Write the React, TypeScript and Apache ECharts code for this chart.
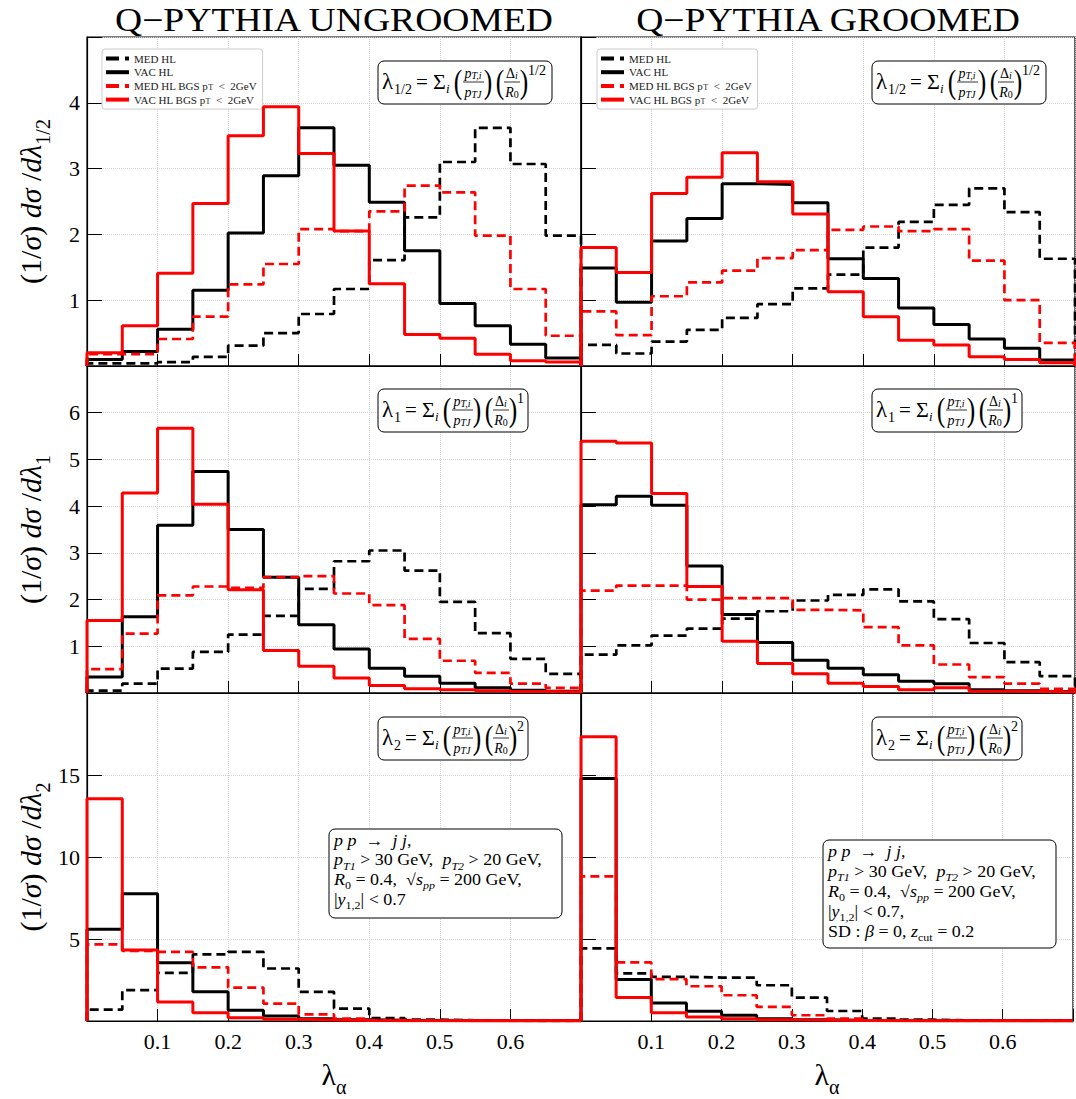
import React, { useEffect, useRef } from "react";
import * as echarts from "echarts";

const FONT = "Liberation Serif";

// bin edges of all histograms (lambda_alpha)
const binEdges = [0, 0.05, 0.1, 0.15, 0.2, 0.25, 0.3, 0.35, 0.4, 0.45, 0.5, 0.55, 0.6, 0.65, 0.7];
const xTicks = [0.1, 0.2, 0.3, 0.4, 0.5, 0.6];

const seriesNames = ["MED HL", "VAC HL", "MED HL BGS pT < 2GeV", "VAC HL BGS pT < 2GeV"];
const panelTitles = ["Q−PYTHIA UNGROOMED", "Q−PYTHIA GROOMED"];

// ---- lambda 1/2, ungroomed
const ugHalfMed = [0.04, 0.04, 0.06, 0.14, 0.31, 0.5, 0.79, 1.17, 1.61, 2.26, 3.1, 3.62, 3.07, 1.98];
const ugHalfVac = [0.1, 0.22, 0.56, 1.15, 2.02, 2.89, 3.62, 3.05, 2.49, 1.75, 0.95, 0.61, 0.33, 0.12];
const ugHalfMedBgs = [0.18, 0.18, 0.41, 0.75, 1.24, 1.55, 2.08, 2.05, 2.35, 2.74, 2.64, 1.98, 1.17, 0.46];
const ugHalfVacBgs = [0.2, 0.61, 1.41, 2.47, 3.5, 3.94, 3.23, 2.05, 1.25, 0.48, 0.42, 0.18, 0.08, 0.06];
// ---- lambda 1/2, groomed
const grHalfMed = [0.32, 0.19, 0.37, 0.55, 0.73, 0.94, 1.18, 1.39, 1.8, 2.19, 2.45, 2.7, 2.34, 1.63];
const grHalfVac = [1.49, 0.97, 1.9, 2.24, 2.77, 2.76, 2.48, 1.63, 1.33, 0.88, 0.63, 0.41, 0.27, 0.09];
const grHalfMedBgs = [0.83, 0.47, 1.06, 1.27, 1.45, 1.64, 1.76, 2.07, 2.12, 2.05, 2.08, 1.6, 1.0, 0.35];
const grHalfVacBgs = [1.8, 1.42, 2.62, 2.87, 3.24, 2.8, 2.31, 1.13, 0.75, 0.39, 0.32, 0.14, 0.1, 0.05];
// ---- lambda 1, ungroomed
const ugOneMed = [0.05, 0.2, 0.52, 0.88, 1.25, 1.65, 2.23, 2.82, 3.05, 2.62, 1.95, 1.28, 0.73, 0.41];
const ugOneVac = [0.34, 1.63, 3.59, 4.74, 3.5, 2.48, 1.46, 0.94, 0.53, 0.36, 0.21, 0.11, 0.06, 0.04];
const ugOneMedBgs = [0.51, 1.27, 2.09, 2.28, 2.25, 2.48, 2.5, 2.13, 1.88, 1.16, 0.69, 0.43, 0.2, 0.11];
const ugOneVacBgs = [1.55, 4.28, 5.67, 4.04, 2.21, 0.91, 0.57, 0.32, 0.16, 0.09, 0.07, 0.05, 0.03, 0.02];
// ---- lambda 1, groomed
const grOneMed = [0.82, 1.02, 1.23, 1.38, 1.59, 1.75, 1.98, 2.1, 2.22, 1.96, 1.58, 1.07, 0.66, 0.36];
const grOneVac = [4.03, 4.21, 4.02, 2.72, 1.68, 1.08, 0.7, 0.53, 0.39, 0.25, 0.2, 0.07, 0.05, 0.03];
const grOneMedBgs = [2.19, 2.3, 2.3, 2.0, 2.03, 2.03, 1.78, 1.77, 1.41, 1.02, 0.61, 0.34, 0.2, 0.09];
const grOneVacBgs = [5.39, 5.35, 4.27, 2.28, 1.11, 0.63, 0.41, 0.21, 0.14, 0.07, 0.11, 0.04, 0.03, 0.02];
// ---- lambda 2, ungroomed
const ugTwoMed = [0.69, 1.88, 2.94, 4.06, 4.22, 3.2, 1.78, 0.76, 0.18, 0.08, 0.04, 0.02, 0.01, 0.01];
const ugTwoVac = [5.59, 7.76, 3.55, 1.78, 0.65, 0.31, 0.14, 0.08, 0.05, 0.03, 0.02, 0.01, 0.01, 0.01];
const ugTwoMedBgs = [4.67, 4.27, 4.22, 3.27, 2.04, 1.06, 0.41, 0.14, 0.06, 0.03, 0.02, 0.01, 0.01, 0.01];
const ugTwoVacBgs = [13.55, 4.33, 1.16, 0.51, 0.2, 0.1, 0.06, 0.03, 0.02, 0.02, 0.01, 0.01, 0.01, 0.01];
// ---- lambda 2, groomed
const grTwoMed = [4.43, 2.9, 2.69, 2.65, 2.65, 2.18, 1.43, 0.61, 0.14, 0.08, 0.04, 0.02, 0.01, 0.01];
const grTwoVac = [14.78, 2.53, 1.1, 0.59, 0.35, 0.14, 0.08, 0.04, 0.03, 0.02, 0.01, 0.01, 0.01, 0.01];
const grTwoMedBgs = [8.82, 3.57, 2.55, 2.12, 1.57, 0.86, 0.35, 0.14, 0.04, 0.02, 0.01, 0.01, 0.01, 0.01];
const grTwoVacBgs = [17.33, 1.43, 0.51, 0.24, 0.14, 0.08, 0.04, 0.03, 0.02, 0.01, 0.01, 0.01, 0.01, 0.01];

const panelData = [
  [ugHalfMed, ugHalfVac, ugHalfMedBgs, ugHalfVacBgs],
  [grHalfMed, grHalfVac, grHalfMedBgs, grHalfVacBgs],
  [ugOneMed, ugOneVac, ugOneMedBgs, ugOneVacBgs],
  [grOneMed, grOneVac, grOneMedBgs, grOneVacBgs],
  [ugTwoMed, ugTwoVac, ugTwoMedBgs, ugTwoVacBgs],
  [grTwoMed, grTwoVac, grTwoMedBgs, grTwoVacBgs],
];

const rowYMax = [5, 7, 20];
const rowYInterval = [1, 1, 5];
const rowSub = ["1/2", "1", "2"];

function stepPoints(vals: number[]) {
  const pts: number[][] = [[binEdges[0], 0]];
  vals.forEach((v, i) => {
    pts.push([binEdges[i], v]);
    pts.push([binEdges[i + 1], v]);
  });
  pts.push([binEdges[binEdges.length - 1], 0]);
  return pts;
}

const richBase = (F: number, d: number) => ({
  n: { fontSize: F, fontFamily: FONT, color: "#000", padding: [0, 0, d, 0] },
  m: { fontSize: F, fontFamily: FONT, fontStyle: "italic", color: "#000", padding: [0, 0, d, 0] },
  s: { fontSize: Math.round(F * 0.68), fontFamily: FONT, color: "#000", verticalAlign: "bottom" },
  si: { fontSize: Math.round(F * 0.68), fontFamily: FONT, fontStyle: "italic", color: "#000", verticalAlign: "bottom" },
});

function txt(x: number, y: number, text: string, F: number, align = "left", italic = false, rich?: any, extra: any = {}) {
  return {
    type: "text",
    x,
    y,
    z: 110,
    silent: true,
    ...extra,
    style: {
      text,
      fontSize: F,
      fontFamily: FONT,
      fontStyle: italic ? "italic" : "normal",
      fill: "#000",
      align,
      verticalAlign: "middle",
      rich,
    },
  };
}

function hline(x1: number, x2: number, y: number, w = 0.8) {
  return { type: "line", z: 110, silent: true, shape: { x1, y1: y, x2, y2: y }, style: { stroke: "#000", lineWidth: w } };
}

function box(x: number, y: number, w: number, h: number) {
  return {
    type: "rect",
    z: 105,
    silent: true,
    shape: { x, y, width: w, height: h, r: 6 },
    style: { fill: "#fff", stroke: "#000", lineWidth: 1 },
  };
}

function paren(x: number, y: number, ch: string) {
  return txt(x, y, ch, 34, "center", false, undefined, { scaleX: 0.75 });
}

function formulaEls(bx: number, by: number, bw: number, sub: string, subW: number) {
  const cy = by + 21;
  const els: any[] = [box(bx, by, bw, 43)];
  const fr = richBase(14, 0);
  els.push(txt(bx + 4, cy - 1, "λ", 23));
  els.push(txt(bx + 16, cy + 7, sub, 14));
  const L = bx + 16 + subW;
  els.push(txt(L + 4, cy, "=", 21));
  els.push(txt(L + 21, cy - 1, "Σ", 22));
  els.push(txt(L + 34, cy + 6, "i", 13, "left", true));
  els.push(paren(L + 46, cy, "("));
  els.push(txt(L + 61, cy - 9, "{m|p}{si|T,i}", 14, "center", false, fr));
  els.push(hline(L + 51, L + 72, cy));
  els.push(txt(L + 61, cy + 10, "{m|p}{si|TJ}", 14, "center", false, fr));
  els.push(paren(L + 76, cy, ")"));
  els.push(paren(L + 88, cy, "("));
  els.push(txt(L + 100, cy - 9, "{n|Δ}{si|i}", 14, "center", false, fr));
  els.push(hline(L + 92, L + 108, cy));
  els.push(txt(L + 100, cy + 10, "{m|R}{s|0}", 14, "center", false, fr));
  els.push(paren(L + 112, cy, ")"));
  els.push(txt(L + 116, cy - 12, sub, 14));
  return els;
}

function infoEls(bx: number, by: number, bw: number, bh: number, lines: string[], ys: number[]) {
  const els: any[] = [box(bx, by, bw, bh)];
  const r = richBase(16.5, 3);
  lines.forEach((l, i) => els.push(txt(bx + 5, ys[i], l, 16.5, "left", false, r, { scaleX: 1.09 })));
  return els;
}

const infoLinesUg = [
  "{m|p p}{n|  →  }{m|j j}{n|,}",
  "{m|p}{si|T1}{n| > 30 GeV,  }{m|p}{si|T2}{n| > 20 GeV,}",
  "{m|R}{s|0}{n| = 0.4,  √}{m|s}{si|pp}{n| = 200 GeV,}",
  "{n||}{m|y}{s|1,2}{n|| < 0.7}",
];
const infoLinesGr = [
  "{m|p p}{n|  →  }{m|j j}{n|,}",
  "{m|p}{si|T1}{n| > 30 GeV,  }{m|p}{si|T2}{n| > 20 GeV,}",
  "{m|R}{s|0}{n| = 0.4,  √}{m|s}{si|pp}{n| = 200 GeV,}",
  "{n||}{m|y}{s|1,2}{n|| < 0.7,}",
  "{n|SD : }{m|β}{n| = 0, }{m|z}{s|cut}{n| = 0.2}",
];

const dashIcon = "path://M0,0H13V4H0Z M19,0H23V4H19Z";
const solidIcon = "path://M0,0H23V4H0Z";

export default function App() {
  const ref = useRef<HTMLDivElement>(null);
  useEffect(() => {
    document.body.style.margin = "0";
    const chart = echarts.init(ref.current!, null, { renderer: "svg" });
    const colLeft = [87, 581];
    const colW = 494;
    const rowTop = [37, 366, 693];
    const rowH = [329, 327, 328];
    const grids: any[] = [];
    const xAxes: any[] = [];
    const yAxes: any[] = [];
    const series: any[] = [];
    const nameRich = richBase(30, 8);
    for (let p = 0; p < 6; p++) {
      const row = Math.floor(p / 2);
      const col = p % 2;
      grids.push({
        left: colLeft[col],
        top: rowTop[row],
        width: colW,
        height: rowH[row],
        show: true,
        borderColor: "#000",
        borderWidth: 1.2,
        backgroundColor: "transparent",
      });
      xAxes.push({
        type: "value",
        gridIndex: p,
        min: 0,
        max: 0.7,
        interval: 0.1,
        axisLine: { show: true, onZero: false, lineStyle: { color: "#000", width: 1.2 } },
        axisTick: { show: true, inside: true, length: 12, lineStyle: { color: "#000" } },
        axisLabel: {
          show: row === 2,
          fontSize: 22,
          fontFamily: FONT,
          color: "#000",
          margin: 9,
          formatter: (v: number) => (xTicks.some((t) => Math.abs(t - v) < 1e-6) ? v.toFixed(1) : ""),
        },
        splitLine: { show: true, lineStyle: { color: "#d4d4d4", type: "dotted", width: 1 } },
        name: row === 2 ? "{n|λ}{s|α}" : "",
        nameLocation: "middle",
        nameGap: 38,
        nameTextStyle: { fontSize: 30, fontFamily: FONT, color: "#000", rich: nameRich },
      });
      const ymax = rowYMax[row];
      yAxes.push({
        type: "value",
        gridIndex: p,
        min: 0,
        max: ymax,
        interval: rowYInterval[row],
        axisLine: { show: true, lineStyle: { color: "#000", width: 1.2 } },
        axisTick: { show: true, inside: true, length: 15, lineStyle: { color: "#000" } },
        axisLabel: {
          show: col === 0,
          fontSize: 22,
          fontFamily: FONT,
          color: "#000",
          margin: 7,
          formatter: (v: number) => (v <= 0 || v >= ymax ? "" : String(v)),
        },
        splitLine: { show: true, lineStyle: { color: "#d4d4d4", type: "dotted", width: 1 } },
        name: col === 0 ? `{n|(1/}{m|σ}{n|) }{m|dσ}{n| /}{m|dλ}{s|${rowSub[row]}}` : "",
        nameLocation: "middle",
        nameRotate: 90,
        nameGap: 34,
        nameTextStyle: { fontSize: 30, fontFamily: FONT, color: "#000", rich: nameRich },
      });
      panelData[p].forEach((vals, k) => {
        const red = k >= 2;
        const dashed = k % 2 === 0;
        series.push({
          type: "line",
          name: seriesNames[k],
          xAxisIndex: p,
          yAxisIndex: p,
          data: stepPoints(vals),
          symbol: "none",
          showSymbol: false,
          silent: true,
          clip: true,
          z: 2 + k,
          lineStyle: {
            color: red ? "#ff0000" : "#000000",
            width: dashed ? 2.7 : 3,
            type: dashed ? [9, 5] : "solid",
            cap: "butt",
          },
          itemStyle: { color: red ? "#ff0000" : "#000000" },
        });
      });
    }

    const legendRich = {
      s: { fontSize: 8, fontFamily: FONT, color: "#222", verticalAlign: "bottom" },
    };
    const mkLegend = (left: number) => ({
      data: seriesNames.map((n, k) => ({ name: n, icon: k % 2 === 0 ? dashIcon : solidIcon })),
      left,
      top: 49,
      orient: "vertical",
      itemWidth: 23,
      itemHeight: 4,
      itemGap: 2.7,
      padding: [4, 6, 4, 4],
      backgroundColor: "#fff",
      borderColor: "#cccccc",
      borderWidth: 1,
      borderRadius: 3,
      selectedMode: false,
      textStyle: { fontSize: 11, fontFamily: FONT, color: "#222", rich: legendRich },
      formatter: (name: string) => name.replace("pT < ", "p{s|T}  <  "),
    });

    const graphics: any[] = [];
    graphics.push(txt(334, 20, panelTitles[0], 33, "center", false, undefined, { scaleX: 1.14 }));
    graphics.push(txt(828, 20, panelTitles[1], 33, "center", false, undefined, { scaleX: 1.14 }));
    const fBoxTop = [61, 389, 717];
    const subW = [18, 7, 7];
    const boxW = [174, 150, 150];
    for (let row = 0; row < 3; row++) {
      graphics.push(...formulaEls(378, fBoxTop[row], boxW[row], rowSub[row], subW[row]));
      graphics.push(...formulaEls(872, fBoxTop[row], boxW[row], rowSub[row], subW[row]));
    }
    graphics.push(...infoEls(329, 829, 233, 89, infoLinesUg, [842, 861.5, 881, 901]));
    graphics.push(...infoEls(823, 840, 233, 108, infoLinesGr, [853, 873, 893, 913, 933]));

    chart.setOption({
      animation: false,
      backgroundColor: "#fff",
      grid: grids,
      xAxis: xAxes,
      yAxis: yAxes,
      legend: [mkLegend(102), mkLegend(597)],
      series,
      graphic: { elements: graphics },
    });
    return () => chart.dispose();
  }, []);
  return <div ref={ref} style={{ width: 1076, height: 1099 }} />;
}
